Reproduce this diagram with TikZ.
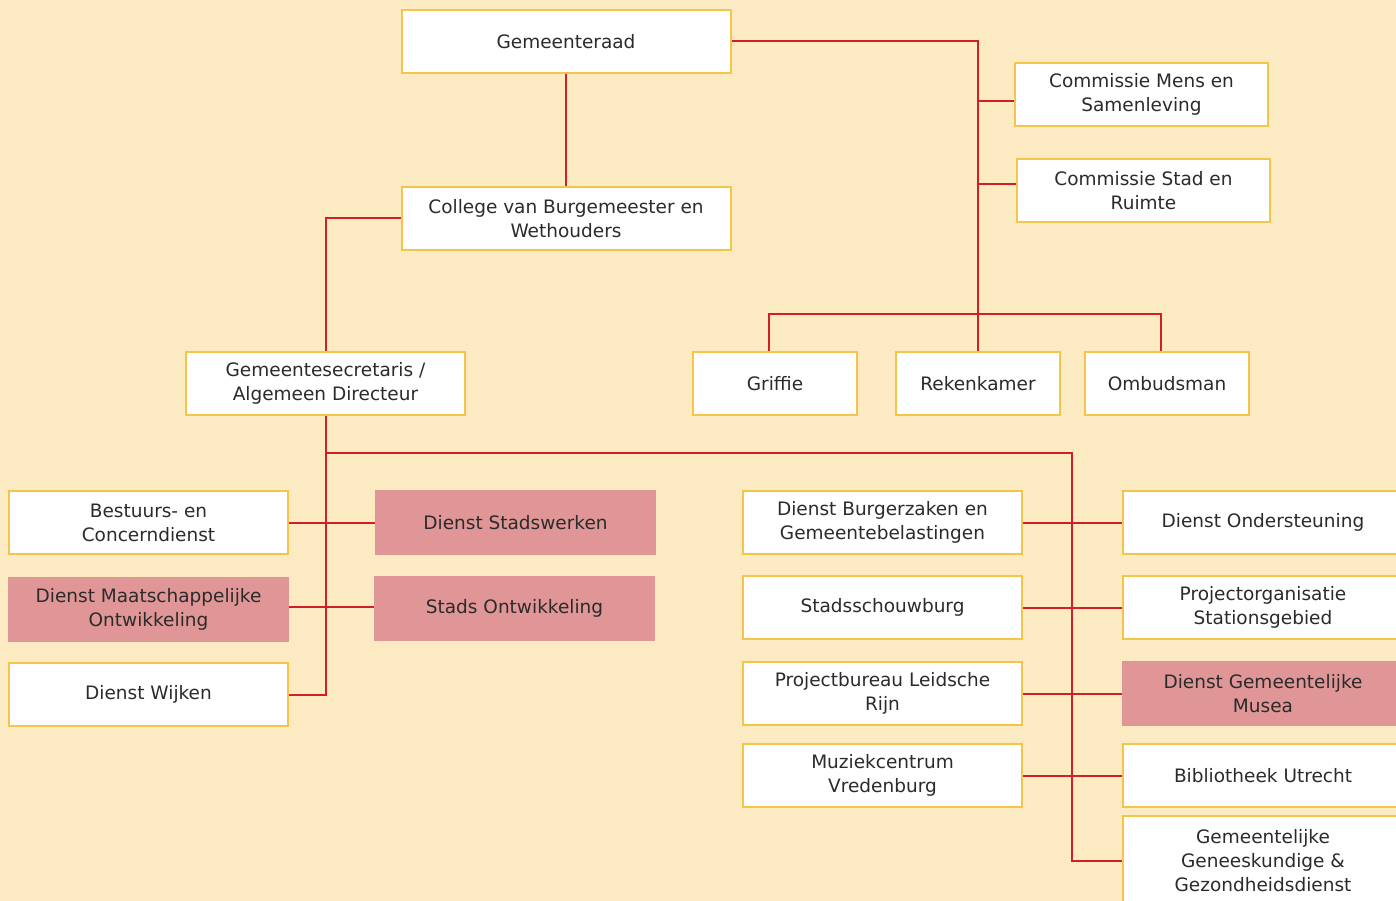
\documentclass[tikz,border=0pt]{standalone}
\usepackage{fontspec}
\setmainfont{DejaVu Sans}
\definecolor{paper}{HTML}{FCEBC2}
\definecolor{rim}{HTML}{F5C54A}
\definecolor{linkred}{HTML}{D41E26}
\definecolor{rose}{HTML}{E09696}
\definecolor{ink}{HTML}{2B2B2B}
\tikzset{
  unit/.style={rectangle, draw=rim, line width=2pt, fill=white, minimum width=279pt,
    minimum height=63pt, inner sep=0pt, align=center, text=ink,
    font=\fontsize{18.5}{24}\selectfont},
  hilite/.style={unit, fill=rose, draw=rose},
  link/.style={draw=linkred, line width=2pt}
}
\begin{document}
\begin{tikzpicture}[x=1pt,y=-1pt]
\clip (0,0) rectangle (1396,901);
\fill[paper] (0,0) rectangle (1396,901);
% council and committees
\node[unit, minimum width=329pt] (raad) at (566,41.5) {Gemeenteraad};
\node[unit, minimum width=253pt] (mens) at (1141.5,94.5) {Commissie Mens en\\Samenleving};
\node[unit, minimum width=253pt] (stad) at (1143.5,190.5) {Commissie Stad en\\Ruimte};
\node[unit, minimum width=329pt] (college) at (566,218.5) {College van Burgemeester en\\Wethouders};
\node[unit] (secretaris) at (325.5,383.5) {Gemeentesecretaris /\\Algemeen Directeur};
\node[unit, minimum width=164pt] (griffie) at (775,383.5) {Griffie};
\node[unit, minimum width=164pt] (rekenkamer) at (978,383.5) {Rekenkamer};
\node[unit, minimum width=164pt] (ombudsman) at (1167,383.5) {Ombudsman};
% services, left
\node[unit] (bestuur) at (148.5,522.5) {Bestuurs- en\\Concerndienst};
\node[hilite] (maatsch) at (148.5,609.5) {Dienst Maatschappelijke\\Ontwikkeling};
\node[unit] (wijken) at (148.5,694.5) {Dienst Wijken};
\node[hilite] (stadswerken) at (515.5,522.5) {Dienst Stadswerken};
\node[hilite] (ontwikkeling) at (514.5,608.5) {Stads Ontwikkeling};
% services, right
\node[unit] (burgerzaken) at (882.5,522.5) {Dienst Burgerzaken en\\Gemeentebelastingen};
\node[unit] (schouwburg) at (882.5,607.5) {Stadsschouwburg};
\node[unit] (leidsche) at (882.5,693.5) {Projectbureau Leidsche\\Rijn};
\node[unit] (muziek) at (882.5,775.5) {Muziekcentrum\\Vredenburg};
\node[unit, minimum width=280pt] (ondersteuning) at (1263,522.5) {Dienst Ondersteuning};
\node[unit, minimum width=280pt] (station) at (1263,607.5) {Projectorganisatie\\Stationsgebied};
\node[hilite, minimum width=280pt] (musea) at (1263,693.5) {Dienst Gemeentelijke\\Musea};
\node[unit, minimum width=280pt] (bibliotheek) at (1263,775.5) {Bibliotheek Utrecht};
\node[unit, minimum width=280pt, minimum height=90pt] (ggd) at (1263,861) {Gemeentelijke\\Geneeskundige \&\\Gezondheidsdienst};
% connectors
\coordinate (bar) at (978,314);
\coordinate (split) at (1072,453);
\draw[link] (raad.east) -| (rekenkamer.north);
\draw[link] ([yshift=-6.5]mens.west) -- ([yshift=-6.5]mens.west -| rekenkamer.north);
\draw[link] ([yshift=6.5]stad.west) -- ([yshift=6.5]stad.west -| rekenkamer.north);
\draw[link] ([xshift=-6]griffie.north) |- (bar) -| ([xshift=-6]ombudsman.north);
\draw[link] (raad.south) -- (college.north);
\draw[link] (college.west) -| (secretaris.north);
\draw[link] (secretaris.south) |- (wijken.east);
\draw[link] (secretaris.south |- split) -- (split) |- (ggd.west);
\draw[link] (bestuur.east) -- (stadswerken.west);
\draw[link] (maatsch.east |- 0,607) -- (ontwikkeling.west |- 0,607);
\draw[link] (burgerzaken.east) -- (ondersteuning.west);
\draw[link] (schouwburg.east) -- (station.west);
\draw[link] (leidsche.east) -- (musea.west);
\draw[link] (muziek.east) -- (bibliotheek.west);
\end{tikzpicture}
\end{document}
